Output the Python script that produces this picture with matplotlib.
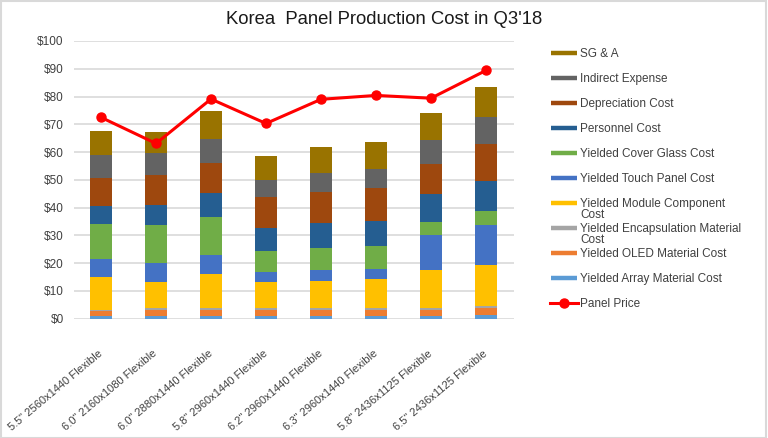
import numpy as np
import matplotlib
matplotlib.use("Agg")
import matplotlib.pyplot as plt
from matplotlib.lines import Line2D
from matplotlib.patches import Rectangle

plt.rcParams['font.family'] = ['Liberation Sans', 'DejaVu Sans']

categories = ['5.5" 2560x1440 Flexible', '6.0" 2160x1080 Flexible', '6.0" 2880x1440 Flexible',
              '5.8" 2960x1440 Flexible', '6.2" 2960x1440 Flexible', '6.3" 2960x1440 Flexible',
              '5.8" 2436x1125 Flexible', '6.5" 2436x1125 Flexible']

# cost components, bottom of the stack first
array_cost   = [0.9, 0.9, 0.9, 0.9, 0.9, 0.9, 0.9, 1.4]
oled_cost    = [1.9, 2.2, 2.2, 2.2, 2.2, 2.3, 2.2, 2.3]
encap_cost   = [0.5, 0.7, 0.7, 0.7, 0.7, 0.6, 0.6, 0.8]
module_cost  = [11.7, 9.3, 12.3, 9.3, 9.9, 10.4, 13.9, 14.8]
touch_cost   = [6.4, 6.9, 6.8, 3.7, 3.9, 3.8, 12.5, 14.3]
cover_cost   = [12.6, 13.9, 13.8, 7.6, 7.9, 8.1, 4.8, 5.3]
personnel    = [6.7, 6.9, 8.4, 8.4, 8.8, 9.0, 10.1, 10.8]
depreciation = [9.8, 10.9, 10.8, 10.9, 11.4, 12.1, 10.8, 13.3]
indirect     = [8.3, 8.0, 8.9, 6.2, 6.6, 6.8, 8.7, 9.5]
sga          = [8.8, 7.5, 9.9, 8.6, 9.6, 9.6, 9.7, 10.8]

panel_price = [72.5, 63.1, 79.1, 70.3, 79.0, 80.4, 79.4, 89.4]

series = [array_cost, oled_cost, encap_cost, module_cost, touch_cost,
          cover_cost, personnel, depreciation, indirect, sga]
names = ['Yielded Array Material Cost', 'Yielded OLED Material Cost',
         'Yielded Encapsulation Material\nCost', 'Yielded Module Component\nCost',
         'Yielded Touch Panel Cost', 'Yielded Cover Glass Cost', 'Personnel Cost',
         'Depreciation Cost', 'Indirect Expense', 'SG & A']
colors = ['#5B9BD5', '#ED7D31', '#A5A5A5', '#FFC000', '#4472C4',
          '#70AD47', '#255E91', '#9E480E', '#636363', '#997300']

W, H = 768, 438
fig = plt.figure(figsize=(W / 100, H / 100), dpi=100)
ax = fig.add_axes([73.5 / W, 1 - 318.7 / H, 440 / W, 277.7 / H])

x = np.arange(len(categories))
bottom = np.zeros(len(categories))
for vals, c in zip(series, colors):
    ax.bar(x, vals, bottom=bottom, width=0.4, color=c, zorder=2)
    bottom += np.array(vals)

ax.plot(x, panel_price, color='#FF0000', lw=2.2, marker='o', markersize=6.5, zorder=3)

ax.set_xlim(-0.5, len(categories) - 0.5)
ax.set_ylim(0, 100)
ax.set_yticks(np.arange(0, 101, 10))
ax.set_yticklabels(['$%d' % v for v in range(0, 101, 10)], fontsize=8.5, color='#404040')
ax.yaxis.grid(True, color='#D9D9D9', lw=1.2, zorder=0)
ax.set_axisbelow(True)
for s in ax.spines.values():
    s.set_visible(False)
ax.tick_params(axis='both', length=0)
ax.tick_params(axis='y', pad=7)
ax.tick_params(axis='x', pad=24)
ax.set_xticks(x)
ax.set_xticklabels(categories, rotation=40, ha='right', va='center',
                   rotation_mode='anchor', fontsize=8, color='#404040')

fig.text(384 / W, 1 - 19.5 / H, "Korea  Panel Production Cost in Q3'18",
         ha='center', va='center', fontsize=13.3, color='#1a1a1a')

# legend, top entry first
for i in range(len(names)):
    k = len(names) - 1 - i
    yc = 1 - (52.7 + 25 * i) / H
    fig.add_artist(Line2D([551 / W, 577 / W], [yc, yc], color=colors[k], lw=3.2,
                          transform=fig.transFigure, solid_capstyle='butt'))
    fig.text(580 / W, yc + 5 / H, names[k], ha='left', va='top', fontsize=8.5,
             color='#404040', linespacing=0.95)
yc = 1 - (52.7 + 25 * len(names)) / H
fig.add_artist(Line2D([550 / W, 578 / W], [yc, yc], color='#FF0000', lw=2.2,
                      transform=fig.transFigure))
fig.add_artist(Line2D([564 / W], [yc], color='#FF0000', marker='o', markersize=6.5,
                      transform=fig.transFigure))
fig.text(580 / W, yc + 5 / H, 'Panel Price', ha='left', va='top', fontsize=8.5,
         color='#404040')

fig.add_artist(Rectangle((0.001, 0.001), 0.997, 0.996, fill=False, edgecolor='#D9D9D9',
                         lw=1.5, transform=fig.transFigure))

fig.savefig('out.png', dpi=100)
